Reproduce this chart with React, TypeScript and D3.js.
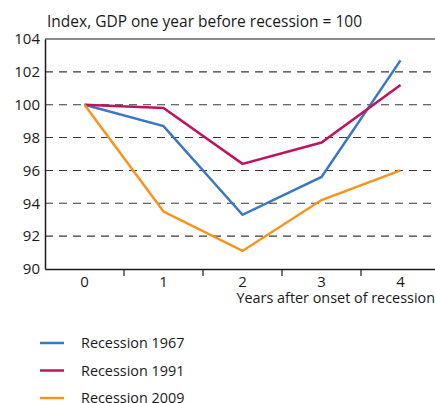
import * as d3 from "d3";
import { useEffect, useRef } from "react";

const years = ["0", "1", "2", "3", "4"];
const yTicks = [90, 92, 94, 96, 98, 100, 102, 104];
const seriesNames = ["Recession 1967", "Recession 1991", "Recession 2009"];
const r1967 = [100, 98.7, 93.3, 95.6, 102.7];
const r1991 = [100, 99.8, 96.4, 97.7, 101.2];
const r2009 = [100, 93.5, 91.1, 94.2, 96.0];
const colors = ["#3b78c0", "#c0135e", "#f8941e"];

const App = () => {
  const ref = useRef<SVGSVGElement>(null);

  useEffect(() => {
    const svg = d3.select(ref.current);
    svg.selectAll("*").remove();
    const font = "'Open Sans', sans-serif";

    const x = d3.scaleBand().domain(years).range([45, 440]);
    const y = d3.scaleLinear().domain([90, 104]).range([269, 39]);

    // title
    svg
      .append("text")
      .attr("x", 47)
      .attr("y", 27)
      .attr("font-family", font)
      .attr("font-size", 15.5)
      .attr("fill", "#1a1a1a")
      .text("Index, GDP one year before recession = 100");

    // dashed gridlines
    svg
      .selectAll(".grid")
      .data(yTicks.filter((d) => d > 90 && d < 104))
      .join("line")
      .attr("x1", 45)
      .attr("x2", 440)
      .attr("y1", (d) => y(d))
      .attr("y2", (d) => y(d))
      .attr("stroke", "#3a3a3a")
      .attr("stroke-width", 1.1)
      .attr("stroke-dasharray", "8,6");

    // top border
    svg
      .append("line")
      .attr("x1", 45)
      .attr("x2", 440)
      .attr("y1", y(104))
      .attr("y2", y(104))
      .attr("stroke", "#1a1a1a")
      .attr("stroke-width", 1.2);

    // y axis
    const yAxis = svg
      .append("g")
      .attr("transform", "translate(45,0)")
      .call(d3.axisLeft(y).tickValues(yTicks).tickSize(0).tickPadding(5));
    yAxis.select(".domain").attr("stroke", "#1a1a1a").attr("stroke-width", 1.5);
    yAxis
      .selectAll("text")
      .attr("font-family", font)
      .attr("font-size", 15)
      .attr("fill", "#1a1a1a");

    // x axis
    const xAxis = svg
      .append("g")
      .attr("transform", `translate(0,${y(90)})`)
      .call(d3.axisBottom(x).tickSize(0).tickPadding(7));
    xAxis.select(".domain").attr("stroke", "#1a1a1a").attr("stroke-width", 1.5);
    xAxis
      .selectAll("text")
      .attr("font-family", font)
      .attr("font-size", 15)
      .attr("fill", "#1a1a1a");

    // tick marks between categories
    svg
      .selectAll(".xtick")
      .data(years.slice(1))
      .join("line")
      .attr("x1", (d) => x(d)!)
      .attr("x2", (d) => x(d)!)
      .attr("y1", y(90))
      .attr("y2", y(90) + 7)
      .attr("stroke", "#1a1a1a")
      .attr("stroke-width", 1.2);

    svg
      .append("text")
      .attr("x", 435)
      .attr("y", 303)
      .attr("text-anchor", "end")
      .attr("font-family", font)
      .attr("font-size", 14.4)
      .attr("fill", "#1a1a1a")
      .text("Years after onset of recession");

    // lines
    const line = d3
      .line<number>()
      .x((_, i) => x(years[i])! + x.bandwidth() / 2)
      .y((d) => y(d));

    [r1967, r1991, r2009].forEach((s, i) => {
      svg
        .append("path")
        .datum(s)
        .attr("d", line)
        .attr("fill", "none")
        .attr("stroke", colors[i])
        .attr("stroke-width", 2.5);
    });

    // legend
    const legend = svg
      .selectAll(".legend")
      .data(seriesNames)
      .join("g")
      .attr("transform", (_, i) => `translate(40,${343 + i * 27.5})`);
    legend
      .append("line")
      .attr("x1", 0)
      .attr("x2", 24)
      .attr("stroke", (_, i) => colors[i])
      .attr("stroke-width", 2.5);
    legend
      .append("text")
      .attr("x", 41)
      .attr("y", 5)
      .attr("font-family", font)
      .attr("font-size", 14.4)
      .attr("fill", "#1a1a1a")
      .text((d) => d);
  }, []);

  return (
    <svg
      ref={ref}
      width={435}
      height={403}
      style={{ position: "absolute", left: 0, top: 0 }}
    />
  );
};

export default App;
